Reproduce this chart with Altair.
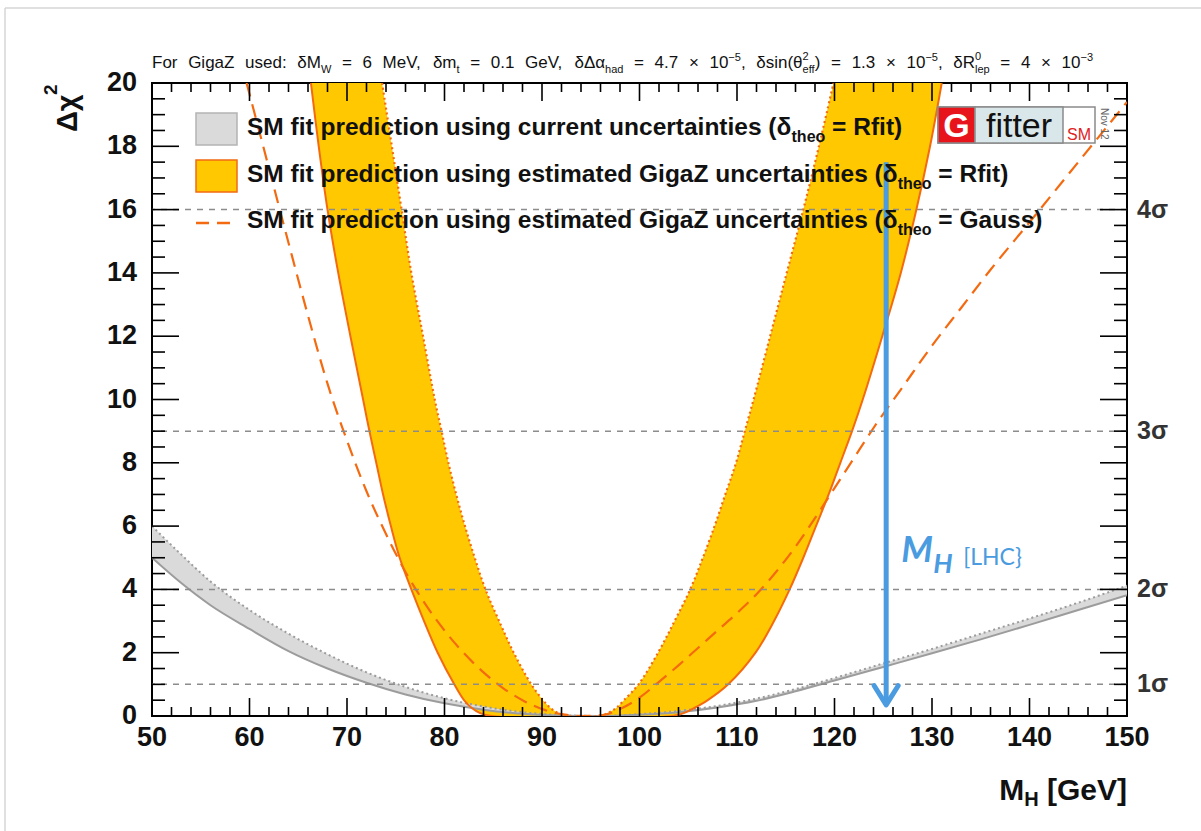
import altair as alt
import pandas as pd

# ---------------------------------------------------------------- data ----
# SM fit Δχ² versus M_H, current precision (grey band: lower = solid edge,
# upper = dotted edge), sampled on a mass grid in GeV
mass_grid = [50, 53, 56, 60, 64, 68, 72, 76, 80, 84, 88, 92, 96, 100, 104,
             108, 112, 116, 120, 125, 130, 135, 140, 145, 150]
gray_lower = [5.0, 4.2, 3.5, 2.75, 2.05, 1.5, 1.05, 0.68, 0.4, 0.2, 0.07, 0.01,
              0.0, 0.04, 0.12, 0.27, 0.48, 0.78, 1.12, 1.55, 1.98, 2.42, 2.88,
              3.35, 3.82]
gray_upper = [6.0, 5.1, 4.25, 3.35, 2.6, 1.95, 1.38, 0.92, 0.56, 0.3, 0.12, 0.03,
              0.0, 0.06, 0.16, 0.32, 0.55, 0.85, 1.2, 1.66, 2.12, 2.6, 3.08,
              3.58, 4.12]

# GigaZ Rfit band: mass (GeV) of each edge at the given Δχ² levels
levels = [0, 0.1, 0.25, 0.5, 1, 2, 3, 4, 5, 6, 7, 8, 9, 10, 12, 14, 16, 18, 20]
rfit_left_outer = [84.8, 83.6, 82.8, 82.0, 81.0, 79.3, 77.9, 76.6, 75.4, 74.5,
                   73.7, 73.0, 72.3, 71.65, 70.35, 69.1, 68.0, 67.1, 66.3]
rfit_left_inner = [92.5, 91.6, 90.9, 90.1, 88.9, 87.1, 85.6, 84.2, 83.1, 82.1,
                   81.2, 80.4, 79.7, 79.0, 77.8, 76.6, 75.6, 74.6, 73.6]
rfit_right_inner = [95.8, 96.8, 97.6, 98.4, 99.9, 101.9, 103.6, 105.2, 106.5,
                    107.7, 108.8, 109.9, 110.8, 111.7, 113.4, 115.1, 116.8,
                    118.4, 119.9]
rfit_right_outer = [103.4, 104.6, 105.6, 107.0, 109.1, 111.9, 113.8, 115.4,
                    116.8, 118.1, 119.4, 120.6, 121.8, 122.9, 124.9, 126.8,
                    128.4, 129.8, 131.0]

# GigaZ Gaussian-theory curve
gauss_mass = [59.7, 60, 62, 64, 66, 68, 70, 72, 74, 76, 78, 80, 82, 84, 86, 88,
              90, 92, 94, 96, 98, 100, 102, 104, 106, 108, 110, 112, 114, 116,
              118, 120, 122, 124, 127, 130, 133, 136, 140, 145, 150]
gauss_chi2 = [20.0, 19.65, 17.3, 14.95, 12.65, 10.5, 8.7, 7.1, 5.75, 4.55, 3.55,
              2.7, 1.98, 1.38, 0.88, 0.5, 0.22, 0.06, 0.0, 0.02, 0.22, 0.58,
              1.08, 1.6, 2.15, 2.7, 3.25, 3.85, 4.55, 5.35, 6.25, 7.2, 8.15,
              9.1, 10.4, 11.7, 12.9, 14.1, 15.6, 17.5, 19.4]

sigma_values = [1, 4, 9, 16]
sigma_text = ["1σ", "2σ", "3σ", "4σ"]
x_tick_labels = [50, 60, 70, 80, 90, 100, 110, 120, 130, 140, 150]
y_tick_labels = [0, 2, 4, 6, 8, 10, 12, 14, 16, 18, 20]

mh_lhc = 125.3
arrow_top = 17.5
arrow_tip = 0.35

legend_entries = [
    ("SM fit prediction using current uncertainties (δ", "theo", "= Rfit)"),
    ("SM fit prediction using estimated GigaZ uncertainties (δ", "theo", "= Rfit)"),
    ("SM fit prediction using estimated GigaZ uncertainties (δ", "theo", "= Gauss)"),
]
title_parts = [
    ("For GigaZ used: δM", "n"), ("W", "sub"), (" = 6 MeV, δm", "n"), ("t", "sub"),
    (" = 0.1 GeV, δΔα", "n"), ("had", "sub"), (" = 4.7 × 10", "n"), ("−5", "sup"),
    (", δsin(θ", "n"), (("2", "eff"), "supsub"), (") = 1.3 × 10", "n"),
    ("−5", "sup"), (", δR", "n"), (("0", "lep"), "supsub"), (" = 4 × 10", "n"),
    ("−3", "sup"),
]

# -------------------------------------------------------------- styling ---
FONT = "Liberation Sans"
YELLOW = "#FFC800"
ORANGE = "#F46A10"
GRAY_FILL = "#DADADA"
GRAY_LINE = "#9C9C9C"
BLUE = "#4A9BE0"

W, H = 975, 633
PAD = {"left": 152, "top": 83, "right": 74, "bottom": 115}

XS = alt.Scale(domain=[50, 150], nice=False, zero=False)
YS = alt.Scale(domain=[0, 20], nice=False, zero=False)

# glyph advance widths (per 1000 em) for laying out mixed-size text runs
REG = {' ': 278, '(': 333, ')': 333, '=': 584, '.': 278, ',': 278, ':': 278,
       '×': 584, '−': 584, 'F': 611, 'G': 778, 'M': 833, 'V': 667, 'Z': 611,
       'R': 722, 'W': 944, 'a': 556, 'd': 556, 'e': 556, 'f': 278, 'g': 556,
       'h': 556, 'i': 222, 'l': 222, 'm': 833, 'n': 556, 'o': 556, 'p': 556,
       'r': 333, 's': 500, 't': 278, 'u': 556, 'δ': 556, 'Δ': 668, 'α': 578,
       'θ': 556}
BOLD = {' ': 278, '(': 333, ')': 333, '=': 584, '[': 333, ']': 333, '.': 278,
        ',': 278, 'A': 722, 'C': 722, 'G': 778, 'H': 722, 'M': 833, 'R': 722,
        'S': 667, 'V': 667, 'Z': 611, 'a': 556, 'b': 611, 'c': 556, 'd': 611,
        'e': 556, 'f': 333, 'g': 611, 'h': 611, 'i': 278, 'l': 278, 'm': 889,
        'n': 611, 'o': 611, 'p': 611, 'r': 389, 's': 556, 't': 333, 'u': 611,
        'v': 556, 'y': 556, 'δ': 611}


def tw(s, size, table):
    return sum(table.get(c, 556) for c in s) * size / 1000.0


def xq(field):
    return alt.X(field, type="quantitative", scale=XS, axis=None)


def yq(field):
    return alt.Y(field, type="quantitative", scale=YS, axis=None)


def text_layer(rows, **mark):
    df = pd.DataFrame(rows, columns=["px", "py", "txt", "fs"])
    return alt.Chart(df).mark_text(align="left", baseline="alphabetic", font=FONT,
                                   **mark).encode(
        x=alt.X("px:Q", scale=None),
        y=alt.Y("py:Q", scale=None),
        text="txt:N",
        size=alt.Size("fs:Q", scale=None, legend=None),
    )


# ------------------------------------------------------------ curves ------
gray_df = pd.DataFrame({"mass": mass_grid, "lo": gray_lower, "hi": gray_upper})
gray_band = alt.Chart(gray_df).mark_area(
    color=GRAY_FILL, interpolate="monotone", clip=True).encode(
    x=xq("mass"), y=yq("lo"), y2="hi:Q")
gray_lo = alt.Chart(gray_df).mark_line(
    color=GRAY_LINE, strokeWidth=2, interpolate="monotone", clip=True).encode(
    x=xq("mass"), y=yq("lo"))
gray_hi = alt.Chart(gray_df).mark_line(
    color=GRAY_LINE, strokeWidth=2, strokeDash=[2, 3], interpolate="monotone",
    clip=True).encode(x=xq("mass"), y=yq("hi"))

band_df = pd.DataFrame({"level": levels, "lo": rfit_left_outer, "li": rfit_left_inner,
                        "ri": rfit_right_inner, "ro": rfit_right_outer})
band_left = alt.Chart(band_df).mark_area(
    orient="horizontal", color=YELLOW, interpolate="catmull-rom", clip=True).encode(
    y=yq("level"), x=xq("lo"), x2="li:Q")
band_right = alt.Chart(band_df).mark_area(
    orient="horizontal", color=YELLOW, interpolate="catmull-rom", clip=True).encode(
    y=yq("level"), x=xq("ri"), x2="ro:Q")

outer_df = pd.DataFrame({
    "mass": list(reversed(rfit_left_outer)) + rfit_right_outer,
    "chi2": list(reversed(levels)) + levels,
})
outer_df["seq"] = range(len(outer_df))
inner_df = pd.DataFrame({
    "mass": list(reversed(rfit_left_inner)) + rfit_right_inner,
    "chi2": list(reversed(levels)) + levels,
})
inner_df["seq"] = range(len(inner_df))
outer_line = alt.Chart(outer_df).mark_line(
    color=ORANGE, strokeWidth=2, interpolate="catmull-rom", clip=True).encode(
    x=xq("mass"), y=yq("chi2"), order="seq:Q")
inner_line = alt.Chart(inner_df).mark_line(
    color=ORANGE, strokeWidth=2.2, strokeDash=[2, 3], interpolate="catmull-rom",
    clip=True).encode(x=xq("mass"), y=yq("chi2"), order="seq:Q")

gauss_df = pd.DataFrame({"mass": gauss_mass, "chi2": gauss_chi2})
gauss_line = alt.Chart(gauss_df).mark_line(
    color=ORANGE, strokeWidth=2.2, strokeDash=[14, 8], interpolate="monotone",
    clip=True).encode(x=xq("mass"), y=yq("chi2"))

# ---------------------------------------------------- reference levels ----
sig_df = pd.DataFrame({"v": sigma_values, "t": sigma_text})
hlines = alt.Chart(sig_df).mark_rule(
    color="#8C8C8C", strokeWidth=1.5, strokeDash=[6, 6]).encode(y=yq("v"))
sig_labels = alt.Chart(sig_df).mark_text(
    align="left", baseline="middle", dx=10, font=FONT, fontSize=25,
    fontWeight="bold", color="#333").encode(x=alt.value(W), y=yq("v"), text="t:N")

# ------------------------------------------------ tick labels and ticks ---
x_lab = alt.Chart(pd.DataFrame({"v": x_tick_labels})).mark_text(
    align="center", baseline="middle", font=FONT, fontSize=27, fontWeight="bold",
    color="#111").encode(x=xq("v"), y=alt.value(H + 22), text="v:Q")
y_lab = alt.Chart(pd.DataFrame({"v": y_tick_labels})).mark_text(
    align="right", baseline="middle", font=FONT, fontSize=27, fontWeight="bold",
    color="#111").encode(x=alt.value(-15), y=yq("v"), text="v:Q")

x_major = list(range(50, 151, 10))
x_minor = [v for v in range(50, 151, 2) if v % 10]
y_major = [v for v in range(0, 21, 2)]
y_minor = [i * 0.5 for i in range(41) if (i * 0.5) % 2]


def ticks(values, side, length):
    df = pd.DataFrame({"v": values})
    base = alt.Chart(df).mark_rule(color="#000", strokeWidth=1.6)
    if side == "bottom":
        return base.encode(x=xq("v"), y=alt.value(H), y2=alt.value(H - length))
    if side == "top":
        return base.encode(x=xq("v"), y=alt.value(0), y2=alt.value(length))
    if side == "left":
        return base.encode(y=yq("v"), x=alt.value(0), x2=alt.value(length))
    return base.encode(y=yq("v"), x=alt.value(W), x2=alt.value(W - length))


tick_layers = [
    ticks(x_major, "bottom", 18), ticks(x_minor, "bottom", 9),
    ticks(x_major, "top", 18), ticks(x_minor, "top", 9),
    ticks(y_major, "left", 27), ticks(y_minor, "left", 13),
    ticks(y_major, "right", 27), ticks(y_minor, "right", 13),
]

# ------------------------------------------------------- LHC arrow --------
arrow_df = pd.DataFrame({"m": [mh_lhc], "top": [arrow_top], "tip": [arrow_tip]})
arrow_line = alt.Chart(arrow_df).mark_rule(color=BLUE, strokeWidth=5).encode(
    x=xq("m"), y=yq("top"), y2="tip:Q")
arrow_head = alt.Chart(arrow_df).mark_point(
    shape="M -1 -1.6 L 0 0 L 1 -1.6", filled=False, size=576, strokeWidth=5,
    color=BLUE, opacity=1, strokeCap="round", strokeJoin="round").encode(
    x=xq("m"), y=yq("tip"))
arrow_m = alt.Chart(arrow_df).mark_text(
    align="left", baseline="alphabetic", dx=15, font="Lato", fontSize=36,
    fontWeight="bold", fontStyle="italic", color=BLUE).encode(
    x=xq("m"), y=alt.value(479), text=alt.value("M"))
arrow_h = alt.Chart(arrow_df).mark_text(
    align="left", baseline="alphabetic", dx=47, font="Lato", fontSize=27,
    fontWeight="bold", fontStyle="italic", color=BLUE).encode(
    x=xq("m"), y=alt.value(490), text=alt.value("H"))
arrow_lhc = alt.Chart(arrow_df).mark_text(
    align="left", baseline="alphabetic", dx=77, font="Lato", fontSize=23,
    color=BLUE).encode(x=xq("m"), y=alt.value(482), text=alt.value("[LHC}"))

# ------------------------------------------------------------ title -------
T_SIZE, T_SMALL = 17, 11
T_LEFT, T_RIGHT, T_BASE = 0, 941, -15


def part_width(part, kind):
    if kind == "n":
        return tw(part, T_SIZE, REG)
    if kind == "supsub":
        return max(tw(part[0], T_SMALL, REG), tw(part[1], T_SMALL, REG))
    return tw(part, T_SMALL, REG)


natural = sum(part_width(p, k) for p, k in title_parts)
n_spaces = sum(p.count(" ") for p, k in title_parts if k == "n")
extra = (T_RIGHT - T_LEFT - natural) / n_spaces
title_big, title_small = [], []
cx = T_LEFT
for part, kind in title_parts:
    if kind == "n":
        for i, tok in enumerate(part.split(" ")):
            if i > 0:
                cx += tw(" ", T_SIZE, REG) + extra
            if tok:
                title_big.append((cx, T_BASE, tok, T_SIZE))
                cx += tw(tok, T_SIZE, REG)
    elif kind == "sub":
        title_small.append((cx, T_BASE + 5, part, T_SMALL))
        cx += part_width(part, kind)
    elif kind == "sup":
        title_small.append((cx, T_BASE - 7, part, T_SMALL))
        cx += part_width(part, kind)
    else:
        title_small.append((cx, T_BASE - 8, part[0], T_SMALL))
        title_small.append((cx, T_BASE + 5, part[1], T_SMALL))
        cx += part_width(part, kind)

# ---------------------------------------------------------- legend --------
L_SIZE, L_SUB = 24.5, 16
L_X = 95
L_BASES = [52, 98.7, 145.3]
bold_rows = []
for (pre, sub, post), base in zip(legend_entries, L_BASES):
    bold_rows.append((L_X, base, pre, L_SIZE))
    sx = L_X + tw(pre, L_SIZE, BOLD)
    bold_rows.append((sx, base + 7, sub, L_SUB))
    sx += tw(sub, L_SUB, BOLD) + tw(" ", L_SIZE, BOLD)
    bold_rows.append((sx, base, post, L_SIZE))

# x-axis title, right-aligned to the frame
XT_SIZE, XT_SUB, XT_BASE = 30, 20, 717
xt_total = (tw("M", XT_SIZE, BOLD) + tw("H", XT_SUB, BOLD) + tw(" [GeV]", XT_SIZE, BOLD))
xt = W - xt_total
bold_rows.append((xt, XT_BASE, "M", XT_SIZE))
xt += tw("M", XT_SIZE, BOLD)
bold_rows.append((xt, XT_BASE + 6, "H", XT_SUB))
xt += tw("H", XT_SUB, BOLD) + tw(" ", XT_SIZE, BOLD)
bold_rows.append((xt, XT_BASE, "[GeV]", XT_SIZE))

title_layer_big = text_layer(title_big, color="#111")
title_layer_small = text_layer(title_small, color="#111")
bold_layer = text_layer(bold_rows, color="#111", fontWeight="bold")

y_title = alt.Chart(pd.DataFrame({"t": ["Δχ"]})).mark_text(
    angle=270, align="left", baseline="alphabetic", font=FONT, fontSize=29,
    fontWeight="bold", color="#111").encode(
    x=alt.value(-75), y=alt.value(49), text="t:N")
y_title_sup = alt.Chart(pd.DataFrame({"t": ["2"]})).mark_text(
    angle=270, align="left", baseline="alphabetic", font=FONT, fontSize=19,
    fontWeight="bold", color="#111").encode(
    x=alt.value(-95), y=alt.value(12), text="t:N")

# legend swatches and Gfitter badge
rect_df = pd.DataFrame([
    (44, 85, 30, 62, GRAY_FILL, "#B4B4B4"),
    (44, 85, 77, 109, YELLOW, ORANGE),
    (786, 943, 24, 60, "#FFFFFF", "#8A8A8A"),
    (786, 823, 24, 60, "#E8141B", "#8A8A8A"),
    (823, 911, 24, 60, "#D9E6EA", "#8A8A8A"),
], columns=["x", "x2", "y", "y2", "fill", "stroke"])
rects = alt.Chart(rect_df).mark_rect(strokeWidth=1.5).encode(
    x=alt.X("x:Q", scale=None), x2="x2:Q",
    y=alt.Y("y:Q", scale=None), y2="y2:Q",
    fill=alt.Fill("fill:N", scale=None, legend=None),
    stroke=alt.Stroke("stroke:N", scale=None, legend=None))
legend_dash = alt.Chart(pd.DataFrame({"a": [0]})).mark_rule(
    color=ORANGE, strokeWidth=2.5, strokeDash=[13, 8]).encode(
    x=alt.value(44), x2=alt.value(85), y=alt.value(140))

logo_g = alt.Chart(pd.DataFrame({"t": ["G"]})).mark_text(
    align="center", baseline="alphabetic", font=FONT, fontSize=34,
    fontWeight="bold", color="#FFFFFF").encode(
    x=alt.value(804.5), y=alt.value(54), text="t:N")
logo_fitter = alt.Chart(pd.DataFrame({"t": ["fitter"]})).mark_text(
    align="center", baseline="alphabetic", font=FONT, fontSize=34,
    color="#111").encode(x=alt.value(867), y=alt.value(54), text="t:N")
logo_sm = alt.Chart(pd.DataFrame({"t": ["SM"]})).mark_text(
    align="center", baseline="alphabetic", font=FONT, fontSize=16,
    color="#E02020").encode(x=alt.value(927), y=alt.value(57), text="t:N")
logo_date = alt.Chart(pd.DataFrame({"t": ["Nov 12"]})).mark_text(
    angle=90, align="left", baseline="alphabetic", font=FONT, fontSize=10,
    color="#666").encode(x=alt.value(949), y=alt.value(25), text="t:N")

# faint page frame
frame_df = pd.DataFrame([(-147, 1049, -75, -75), (-147, -147, -75, 748)],
                        columns=["x", "x2", "y", "y2"])
frame = alt.Chart(frame_df).mark_rule(color="#D6D6D6", strokeWidth=1.5).encode(
    x=alt.X("x:Q", scale=None), x2="x2:Q",
    y=alt.Y("y:Q", scale=None), y2="y2:Q")

chart = alt.layer(
    band_left, band_right, gray_band, gray_lo, gray_hi,
    outer_line, inner_line, gauss_line, hlines,
    *tick_layers, x_lab, y_lab,
    sig_labels, arrow_line, arrow_head, arrow_m, arrow_h, arrow_lhc,
    rects, legend_dash, logo_g, logo_fitter, logo_sm, logo_date,
    title_layer_big, title_layer_small, bold_layer, y_title, y_title_sup, frame,
).properties(
    width=W, height=H,
    autosize=alt.AutoSizeParams(type="none"),
    padding=PAD,
    background="#FFFFFF",
).configure_view(stroke="#000", strokeWidth=2)

chart.save("out.html", embed_options={"renderer": "svg", "actions": False})
